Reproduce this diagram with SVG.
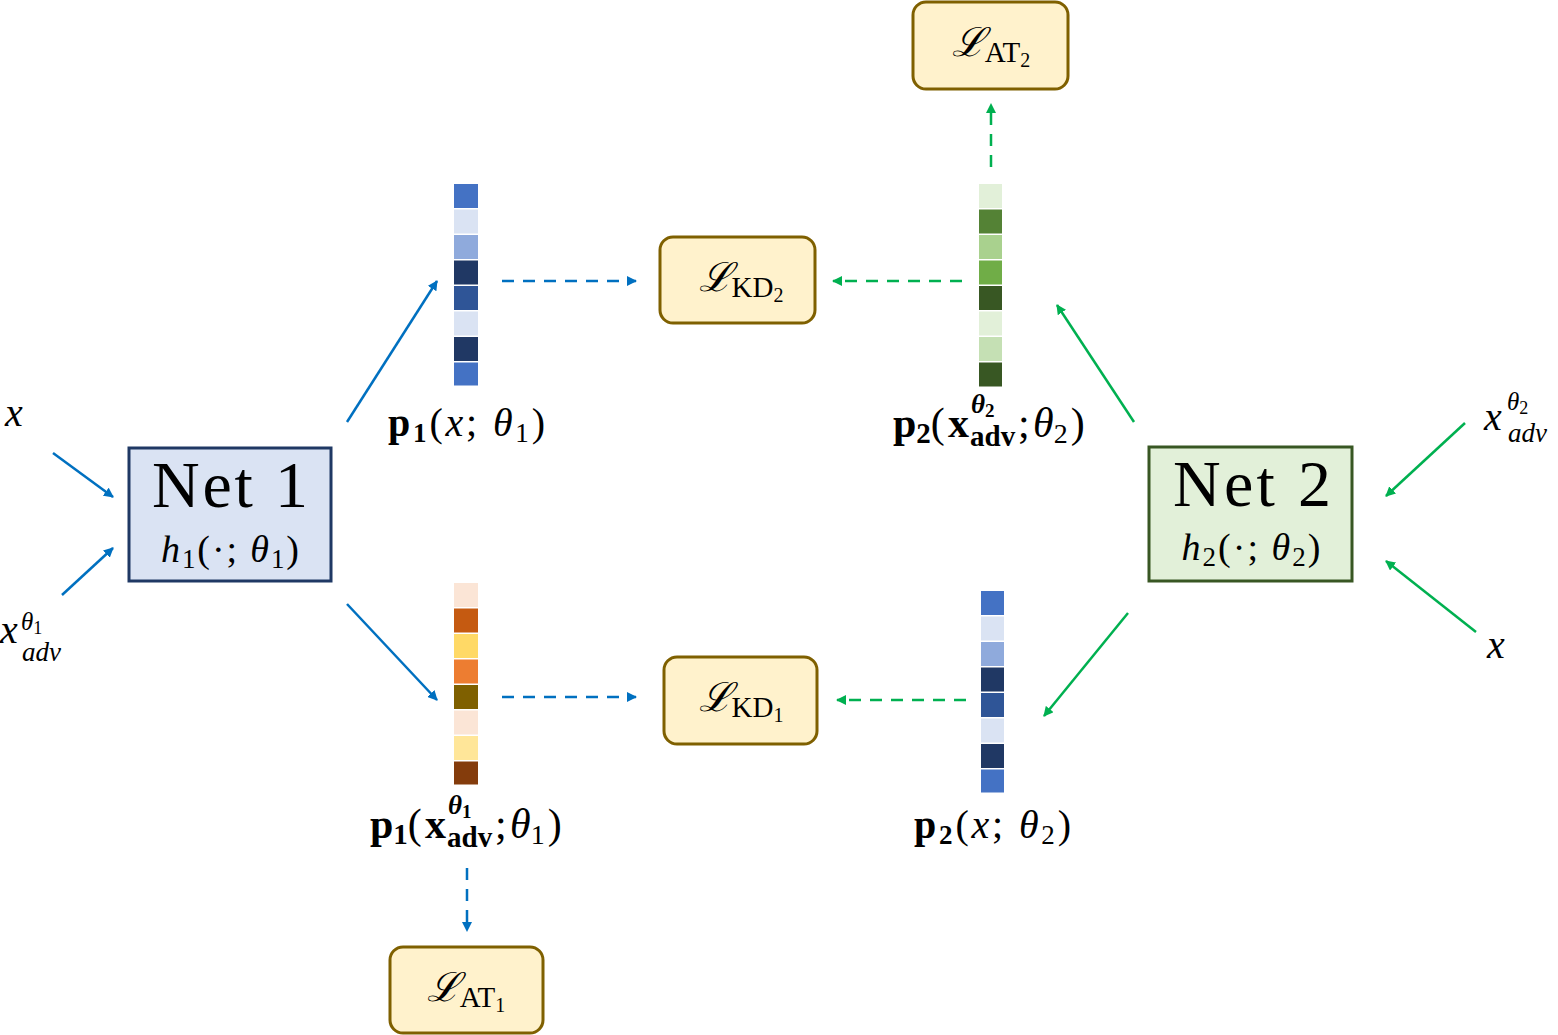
<svg xmlns="http://www.w3.org/2000/svg" width="1558" height="1035" viewBox="0 0 1558 1035">
<defs>
<marker id="ab" markerWidth="10" markerHeight="10" refX="9" refY="5" orient="auto" markerUnits="userSpaceOnUse" viewBox="0 0 10 10"><path d="M0,0 L10,5 L0,10 z" fill="#0070C0"/></marker>
<marker id="ag" markerWidth="10" markerHeight="10" refX="9" refY="5" orient="auto" markerUnits="userSpaceOnUse" viewBox="0 0 10 10"><path d="M0,0 L10,5 L0,10 z" fill="#00B050"/></marker>
</defs>
<style>
text{font-family:"Liberation Serif","DejaVu Serif",serif;fill:#000}
.m{font-style:italic}
.b{font-weight:bold}
.r{font-style:normal}
.cb{stroke:#0070C0;stroke-width:2.5;fill:none;marker-end:url(#ab)}
.cg{stroke:#00B050;stroke-width:2.5;fill:none;marker-end:url(#ag)}
.d{stroke-dasharray:12 9}
.loss{fill:#FFF2CC;stroke:#7F6000;stroke-width:3}
.L{font-family:"DejaVu Serif","Liberation Serif",serif;font-style:italic}
</style>
<rect width="1558" height="1035" fill="#fff"/>

<g id="connectors">
<line class="cb" x1="53" y1="453" x2="113" y2="497"/>
<line class="cb" x1="62" y1="595" x2="113" y2="548"/>
<line class="cb" x1="347" y1="422" x2="437" y2="281"/>
<line class="cb" x1="347" y1="604" x2="437" y2="700"/>
<line class="cb d" x1="502" y1="281" x2="636" y2="281"/>
<line class="cb d" x1="502" y1="697" x2="636" y2="697"/>
<line class="cb d" x1="467" y1="868" x2="467" y2="931"/>
<line class="cg" x1="1465" y1="423" x2="1386" y2="496"/>
<line class="cg" x1="1476" y1="632" x2="1386" y2="561"/>
<line class="cg" x1="1134" y1="422" x2="1057" y2="305"/>
<line class="cg" x1="1128" y1="613" x2="1044" y2="716"/>
<line class="cg d" x1="962" y1="281" x2="833" y2="281"/>
<line class="cg d" x1="966" y1="700" x2="837" y2="700"/>
<line class="cg d" x1="991" y1="167" x2="991" y2="104"/>
</g>

<g id="net1">
<rect x="129" y="448" width="202" height="133" fill="#DAE3F3" stroke="#1F3864" stroke-width="3"/>
<text x="230" y="507" font-size="66" text-anchor="middle" textLength="156">Net 1</text>
<text x="230" y="562" font-size="38" text-anchor="middle" textLength="138"><tspan class="m">h</tspan><tspan font-size="27" dy="6">1</tspan><tspan dy="-6">(·;</tspan><tspan class="m"> θ</tspan><tspan font-size="27" dy="6">1</tspan><tspan dy="-6">)</tspan></text>
</g>

<g id="net2">
<rect x="1149" y="447" width="203" height="134" fill="#E2F0D9" stroke="#385723" stroke-width="3"/>
<text x="1252" y="506" font-size="66" text-anchor="middle" textLength="158">Net 2</text>
<text x="1251" y="560" font-size="38" text-anchor="middle" textLength="139"><tspan class="m">h</tspan><tspan font-size="27" dy="6">2</tspan><tspan dy="-6">(·;</tspan><tspan class="m"> θ</tspan><tspan font-size="27" dy="6">2</tspan><tspan dy="-6">)</tspan></text>
</g>

<g id="input-x1"><text x="14" y="426" font-size="40" class="m" text-anchor="middle">x</text></g>
<g id="input-xadv1">
<text x="0" y="643" font-size="40" class="m">x</text>
<text x="21" y="630" font-size="25" class="m">θ<tspan class="r" font-size="18" dy="4">1</tspan></text>
<text x="22" y="661" font-size="27" class="m">adv</text>
</g>
<g id="input-xadv2">
<text x="1484" y="430" font-size="40" class="m">x</text>
<text x="1507" y="410" font-size="25" class="m">θ<tspan class="r" font-size="18" dy="4">2</tspan></text>
<text x="1508" y="442" font-size="27" class="m">adv</text>
</g>
<g id="input-x2"><text x="1496" y="658" font-size="40" class="m" text-anchor="middle">x</text></g>

<g id="vec-p1x">
<rect x="454" y="184" width="24" height="24" fill="#4472C4"/>
<rect x="454" y="209.5" width="24" height="24" fill="#DAE3F3"/>
<rect x="454" y="235" width="24" height="24" fill="#8FAADC"/>
<rect x="454" y="260.5" width="24" height="24" fill="#203864"/>
<rect x="454" y="286" width="24" height="24" fill="#2F5597"/>
<rect x="454" y="311.5" width="24" height="24" fill="#DAE3F3"/>
<rect x="454" y="337" width="24" height="24" fill="#203864"/>
<rect x="454" y="362.5" width="24" height="23" fill="#4472C4"/>
<text x="388" y="436" font-size="40" textLength="157"><tspan class="b">p</tspan><tspan class="b" font-size="27" dy="6">1</tspan><tspan dy="-6">(</tspan><tspan class="m">x</tspan><tspan>; </tspan><tspan class="m">θ</tspan><tspan font-size="27" dy="6">1</tspan><tspan dy="-6">)</tspan></text>
</g>

<g id="vec-p1adv">
<rect x="454" y="583" width="24" height="24" fill="#FBE5D6"/>
<rect x="454" y="608.5" width="24" height="24" fill="#C55A11"/>
<rect x="454" y="634" width="24" height="24" fill="#FFD966"/>
<rect x="454" y="659.5" width="24" height="24" fill="#ED7D31"/>
<rect x="454" y="685" width="24" height="24" fill="#7F6000"/>
<rect x="454" y="710.5" width="24" height="24" fill="#FBE5D6"/>
<rect x="454" y="736" width="24" height="24" fill="#FFE699"/>
<rect x="454" y="761.5" width="24" height="23" fill="#843C0C"/>
<text x="370" y="838" font-size="42"><tspan class="b">p</tspan><tspan class="b" font-size="29" dy="6">1</tspan><tspan dy="-6">(</tspan></text>
<text x="425" y="838" font-size="42" class="b">x</text>
<text x="448" y="814" font-size="27" class="b m">θ<tspan class="r" font-size="19" dy="4">1</tspan></text>
<text x="447" y="847" font-size="29" class="b">adv</text>
<text x="495" y="838" font-size="42">;</text>
<text x="510" y="838" font-size="42"><tspan class="m">θ</tspan><tspan font-size="28" dy="6">1</tspan><tspan dx="3" dy="-6">)</tspan></text>
</g>

<g id="vec-p2adv">
<rect x="979" y="184" width="23" height="24" fill="#E2F0D9"/>
<rect x="979" y="209.5" width="23" height="24" fill="#548235"/>
<rect x="979" y="235" width="23" height="24" fill="#A9D18E"/>
<rect x="979" y="260.5" width="23" height="24" fill="#70AD47"/>
<rect x="979" y="286" width="23" height="24" fill="#385723"/>
<rect x="979" y="311.5" width="23" height="24" fill="#E2F0D9"/>
<rect x="979" y="337" width="23" height="24" fill="#C5E0B4"/>
<rect x="979" y="362.5" width="23" height="24" fill="#385723"/>
<text x="893" y="437" font-size="42"><tspan class="b">p</tspan><tspan class="b" font-size="29" dy="6">2</tspan><tspan dy="-6">(</tspan></text>
<text x="948" y="437" font-size="42" class="b">x</text>
<text x="971" y="413" font-size="27" class="b m">θ<tspan class="r" font-size="19" dy="4">2</tspan></text>
<text x="970" y="446" font-size="29" class="b">adv</text>
<text x="1018" y="437" font-size="42">;</text>
<text x="1033" y="437" font-size="42"><tspan class="m">θ</tspan><tspan font-size="28" dy="6">2</tspan><tspan dx="3" dy="-6">)</tspan></text>
</g>

<g id="vec-p2x">
<rect x="981" y="591" width="23" height="24" fill="#4472C4"/>
<rect x="981" y="616.5" width="23" height="24" fill="#DAE3F3"/>
<rect x="981" y="642" width="23" height="24" fill="#8FAADC"/>
<rect x="981" y="667.5" width="23" height="24" fill="#203864"/>
<rect x="981" y="693" width="23" height="24" fill="#2F5597"/>
<rect x="981" y="718.5" width="23" height="24" fill="#DAE3F3"/>
<rect x="981" y="744" width="23" height="24" fill="#203864"/>
<rect x="981" y="769.5" width="23" height="23" fill="#4472C4"/>
<text x="914" y="838" font-size="40" textLength="157"><tspan class="b">p</tspan><tspan class="b" font-size="27" dy="6">2</tspan><tspan dy="-6">(</tspan><tspan class="m">x</tspan><tspan>; </tspan><tspan class="m">θ</tspan><tspan font-size="27" dy="6">2</tspan><tspan dy="-6">)</tspan></text>
</g>

<g id="loss-kd2">
<rect class="loss" x="660" y="237" width="155" height="86" rx="13"/>
<text x="741" y="291" font-size="40" text-anchor="middle"><tspan class="L">ℒ</tspan><tspan font-size="29" dy="6">KD</tspan><tspan font-size="20" dy="5">2</tspan></text>
</g>
<g id="loss-at2">
<rect class="loss" x="913" y="2" width="155" height="87" rx="13"/>
<text x="991" y="56" font-size="40" text-anchor="middle"><tspan class="L">ℒ</tspan><tspan font-size="29" dy="6">AT</tspan><tspan font-size="20" dy="5">2</tspan></text>
</g>
<g id="loss-kd1">
<rect class="loss" x="664" y="657" width="153" height="87" rx="13"/>
<text x="741" y="711" font-size="40" text-anchor="middle"><tspan class="L">ℒ</tspan><tspan font-size="29" dy="6">KD</tspan><tspan font-size="20" dy="5">1</tspan></text>
</g>
<g id="loss-at1">
<rect class="loss" x="390" y="947" width="153" height="86" rx="13"/>
<text x="466" y="1001" font-size="40" text-anchor="middle"><tspan class="L">ℒ</tspan><tspan font-size="29" dy="6">AT</tspan><tspan font-size="20" dy="5">1</tspan></text>
</g>
</svg>
